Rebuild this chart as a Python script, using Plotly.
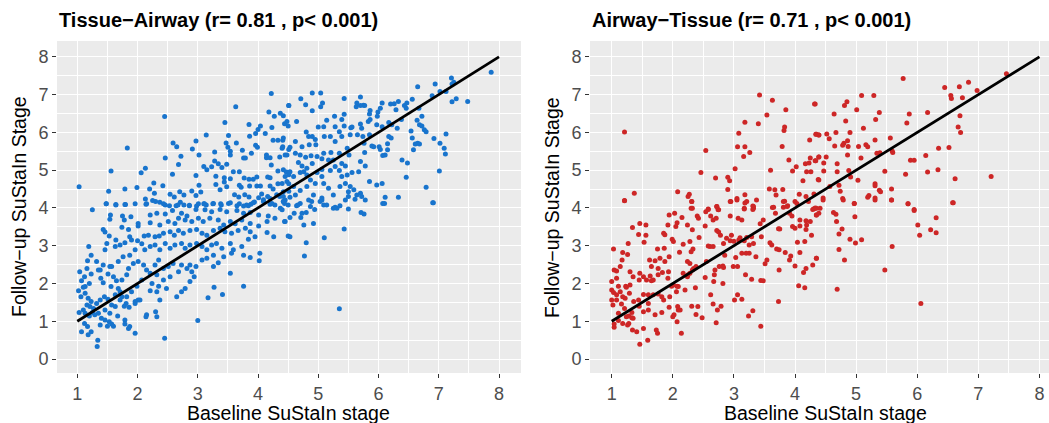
import plotly.graph_objects as go

# ---- data (baseline stage, follow-up stage) ----
tissue_airway_pts = [
(1.03,4.56),(2.45,6.42),(1.83,5.59),(1.56,4.98),(1.52,4.44),(1.48,4.11),(1.64,4.09),(1.79,4.09),(1.79,4.50),(1.99,4.54),
(2.06,4.93),(2.13,5.05),(2.46,5.32),(2.59,5.72),(2.65,5.62),(2.72,5.37),(2.68,5.15),(2.58,4.89),(2.42,4.59),(2.27,4.66),
(2.20,4.50),(2.28,4.39),(2.13,4.24),(2.14,4.10),(2.25,4.20),(2.37,4.15),(2.46,4.08),(2.54,4.36),(2.61,4.29),(2.70,4.43),
(2.77,4.34),(2.64,4.06),(2.71,4.15),(2.90,4.45),(2.97,4.86),(3.02,4.60),(2.97,4.33),(3.05,4.42),(2.91,5.56),(2.97,5.77),
(3.02,5.40),(3.14,5.93),(3.10,5.10),(3.15,5.01),(3.23,5.09),(3.28,5.24),(3.28,5.48),(3.34,5.17),(3.40,5.07),(3.45,6.26),
(3.51,5.92),(3.47,5.72),(3.50,5.61),(3.54,5.50),(3.54,5.40),(3.63,6.68),(3.64,5.72),(3.48,5.16),(3.44,4.80),(3.44,4.69),
(3.30,4.84),(3.30,4.62),(3.37,4.48),(3.48,4.56),(3.54,4.77),(3.59,4.96),(3.69,4.96),(3.74,5.53),(3.76,5.32),(3.79,5.32),
(3.85,6.21),(3.86,5.90),(3.89,5.45),(3.96,5.66),(3.99,5.61),(3.96,5.97),(4.00,6.08),(4.04,6.17),(4.12,5.97),(4.18,6.54),
(4.22,7.03),(4.27,6.43),(4.23,6.13),(4.33,5.79),(4.25,5.79),(4.41,5.79),(4.51,6.71),(4.44,6.23),(4.50,6.17),(4.40,5.58),
(4.51,5.55),(4.45,5.40),(4.36,5.35),(4.14,5.40),(4.14,5.33),(4.20,5.33),(4.22,5.14),(4.33,4.98),(4.47,4.95),(4.51,4.88),
(3.98,4.82),(3.92,4.76),(3.86,4.58),(3.98,4.58),(4.04,4.58),(4.16,4.82),(4.20,4.80),(4.06,4.37),(4.20,4.58),(4.25,4.50),
(4.33,4.64),(4.48,4.70),(4.51,4.64),(4.51,4.44),(3.77,4.79),(3.85,4.76),(3.72,4.55),(3.69,4.60),(3.61,4.35),(3.68,4.29),
(3.78,4.35),(3.85,4.29),(3.88,4.10),(3.94,4.16),(4.01,4.27),(4.09,4.22),(4.16,4.30),(4.20,4.25),(4.31,4.35),(4.36,4.30),
(4.42,4.30),(3.51,4.12),(3.39,4.08),(3.26,4.12),(3.14,4.08),(3.10,4.11),(2.98,4.05),(2.86,4.07),(2.77,4.08),(3.65,4.06),
(3.76,4.05),(3.84,4.06),(4.20,4.10),(4.28,4.08),(4.44,4.12),(4.50,4.08),
(1.48,4.11),(1.64,4.08),(1.80,4.09),(1.96,4.11),(2.15,4.11),(2.30,4.17),(2.43,4.11),(2.53,4.06),(2.67,4.08),(2.86,4.06),
(3.01,4.11),(3.11,4.11),(3.25,4.11),(3.38,4.11),(3.54,4.14),(3.69,4.11),(3.81,4.08),(3.92,4.14),(4.09,4.17),(4.23,4.12),
(4.42,4.17),(1.25,3.95),(1.55,3.81),(1.75,3.79),(1.89,3.77),(2.21,3.81),(2.32,3.86),(2.46,3.84),(2.58,3.93),(2.73,3.86),
(2.82,3.79),(2.97,3.96),(3.12,3.95),(3.23,3.90),(3.37,3.96),(3.48,3.90),(3.65,3.93),(3.76,3.86),(3.87,3.88),(4.01,3.81),
(4.17,3.79),(4.28,3.73),(4.45,3.64),(4.37,3.99),(1.54,3.70),(1.78,3.68),(2.01,3.59),(2.21,3.61),(2.37,3.55),(2.51,3.64),
(2.62,3.59),(2.68,3.73),(2.79,3.68),(2.90,3.64),(3.01,3.73),(3.09,3.64),(3.20,3.73),(3.34,3.68),(3.43,3.55),(3.54,3.64),
(3.62,3.58),(3.73,3.68),(3.87,3.59),(4.01,3.52),(4.15,3.64),(1.43,3.43),(1.46,3.36),(1.53,3.26),(1.74,3.49),(1.85,3.43),
(2.01,3.52),(1.87,3.24),(1.64,3.15),(1.63,2.98),(1.49,3.06),(1.46,2.89),(1.71,3.02),(1.79,3.08),(1.90,3.15),(2.00,3.13),
(2.11,3.26),(2.18,3.28),(2.29,3.24),(2.36,3.26),(2.43,3.33),(2.54,3.37),(2.61,3.28),(2.68,3.40),(2.76,3.33),(2.87,3.40),
(2.98,3.43),(3.07,3.33),(3.15,3.28),(3.26,3.40),(3.37,3.46),(3.45,3.37),(3.56,3.33),(3.67,3.40),(3.79,3.46),(3.87,3.37),
(3.95,3.24),(4.15,3.35),(4.26,3.24),(4.50,3.26),(1.19,2.98),(1.23,2.75),(1.17,2.60),(1.32,2.58),(1.43,2.49),(1.38,2.36),
(1.54,2.45),(1.68,2.58),(1.76,2.71),(1.87,2.75),(1.96,2.89),(2.07,3.05),(2.12,2.89),(2.21,2.98),(2.29,3.02),(2.37,2.89),
(2.46,3.06),(2.54,2.93),(2.62,3.02),(2.73,3.06),(2.79,2.93),(2.87,3.02),(2.98,3.06),(3.07,2.98),(3.15,2.89),(3.23,3.02),
(3.31,3.06),(3.40,2.93),(3.54,3.06),(3.59,2.89),(3.73,2.98),(3.84,3.17),(4.03,2.80),(3.76,2.75),(3.87,2.69),(4.02,2.60),
(3.56,2.80),(3.43,2.71),(3.26,2.75),(3.34,2.55),(3.15,2.67),(3.07,2.62),(2.97,2.45),(2.87,2.49),(1.04,2.31),(1.07,2.07),
(1.12,2.18),(1.16,2.40),(1.13,1.92),(1.20,2.00),(1.23,2.25),(1.35,2.36),(1.39,2.14),(1.43,2.02),(1.57,2.45),(1.51,2.25),
(1.60,2.18),(1.65,2.07),(1.56,1.92),(1.68,1.87),(1.74,2.09),(1.82,2.23),(1.85,2.40),(1.93,2.53),(2.01,2.58),(2.10,2.49),
(2.15,2.36),(2.21,2.27),(2.29,2.49),(2.35,2.62),(2.43,2.40),(2.51,2.45),(2.59,2.53),(2.68,2.31),(2.73,2.49),(2.82,2.40),
(2.90,2.31),(2.94,2.18),(2.87,2.05),(2.79,1.87),(2.65,1.65),(2.73,1.78),(2.54,2.18),(2.43,2.09),(2.32,2.23),(2.24,2.00),
(2.07,2.09),(1.99,1.93),(1.90,1.78),(1.82,1.65),(1.71,1.78),(1.63,1.70),(2.35,1.93),(2.32,1.78),(2.21,1.81),(2.48,1.87),
(2.37,1.56),(2.04,1.56),(1.96,1.52),(1.74,1.65),(1.81,1.47),(3.26,2.45),(3.54,2.27),(3.76,1.93),(3.27,1.90),(3.41,1.71),
(3.17,1.62),(1.02,1.81),(1.06,1.65),(1.10,1.90),(1.13,1.74),(1.18,1.61),(1.23,1.52),(1.16,1.43),(1.21,1.39),(1.27,1.34),
(1.32,1.47),(1.38,1.56),(1.45,1.65),(1.51,1.58),(1.57,1.43),(1.63,1.39),(1.71,1.56),(1.78,1.40),(1.86,1.37),(1.96,1.47),
(2.01,1.56),(1.54,1.21),(1.46,1.30),(1.35,1.21),(1.25,1.23),(1.10,1.30),(1.03,1.23),(1.13,1.21),(1.20,1.14),(1.29,1.17),
(1.40,1.08),(1.46,1.03),(1.53,0.99),(1.60,0.87),(1.50,0.87),(1.67,1.14),(1.79,1.03),(1.87,0.86),(1.85,0.81),(1.96,0.68),
(2.15,1.17),(2.14,1.12),(2.30,1.25),(2.32,1.12),(1.12,0.94),(1.17,0.86),(1.23,0.72),(1.18,0.64),(1.07,0.72),(1.38,0.90),
(1.34,0.50),(1.33,0.33),(2.45,0.55),(3.00,1.02),(1.57,0.93),(1.79,0.93),
(7.87,7.59),(7.21,7.44),(7.25,7.33),(7.22,7.28),(7.12,7.08),(7.02,7.08),(6.94,7.28),(6.89,6.97),(7.29,6.89),(7.22,6.81),
(7.48,6.82),(6.65,7.21),(6.56,6.88),(6.47,6.78),(6.46,6.64),(6.43,6.71),(6.33,6.82),(6.29,6.60),(6.26,6.76),(6.20,6.75),
(6.03,6.64),(5.99,6.54),(5.98,6.43),(6.06,6.78),(5.86,6.58),(5.85,6.49),(5.75,6.72),(5.70,6.94),(5.64,6.78),(5.63,6.68),
(5.70,6.71),(5.77,6.71),(5.43,6.90),(5.43,6.48),(5.39,6.34),(5.27,6.43),(5.14,6.32),(5.04,7.04),(4.90,7.04),(5.07,6.78),
(5.04,6.68),(4.90,6.57),(4.79,6.73),(4.71,6.89),(4.51,6.71),(4.42,6.44),(4.48,6.29),(4.64,6.29),(4.37,6.51),(5.28,6.15),
(5.43,6.17),(5.54,6.12),(5.70,6.22),(5.72,6.11),(5.83,6.29),(5.86,6.34),(5.97,6.20),(6.06,6.15),(6.17,6.26),(6.22,6.20),
(6.31,6.11),(6.38,6.34),(6.64,6.32),(6.67,6.64),(6.72,6.43),(6.68,6.20),(6.72,6.17),(6.76,6.07),(6.79,6.02),(6.54,6.04),
(6.56,5.85),(6.58,5.54),(6.61,5.69),(6.65,5.71),(6.68,5.69),(6.92,5.84),(7.12,5.96),(7.02,5.71),(7.09,5.58),(7.11,5.43),
(7.01,4.98),(6.79,4.55),(6.90,4.14),(6.46,4.81),(6.39,5.27),(6.48,5.19),(6.11,5.40),(6.03,5.55),(6.07,5.39),(6.21,5.85),
(6.17,5.89),(6.15,5.70),(6.15,5.54),(5.89,5.64),(5.92,5.62),(6.01,5.62),(5.77,5.47),(5.65,5.94),(5.56,6.14),(5.74,5.89),
(5.85,5.94),(5.76,5.71),(5.70,5.23),(5.78,5.11),(5.67,4.96),(5.85,4.70),(5.97,4.61),(6.06,4.65),(5.56,4.94),(5.53,4.57),
(5.39,5.18),(5.45,5.11),(5.48,5.58),(5.51,5.40),(5.35,5.45),(5.25,5.27),(5.21,5.47),(5.09,5.45),(5.10,5.89),(5.20,5.89),
(5.00,6.14),(5.09,6.15),(5.35,6.02),(5.39,5.89),(5.53,5.94),(5.28,5.76),(4.80,6.01),(4.84,5.89),(4.90,5.89),(4.95,5.81),
(4.85,5.67),(4.96,5.67),(4.73,5.62),(4.53,5.61),(4.62,5.76),(4.42,5.85),(4.41,5.62),(4.48,5.40),(4.62,5.45),(4.70,5.40),
(4.79,5.34),(4.88,5.38),(4.98,5.36),(5.06,5.30),(5.17,5.27),(4.67,5.20),(4.73,5.11),(4.81,5.05),(4.90,5.18),(4.98,4.94),
(5.06,5.02),(5.20,4.99),(5.28,5.10),(5.35,4.99),(5.39,4.83),(5.48,4.87),(4.42,5.01),(4.45,4.83),(4.53,4.96),(4.59,4.83),
(4.70,4.94),(4.76,4.96),(4.81,4.87),(4.87,4.74),(4.95,4.65),(5.06,4.83),(5.09,4.65),(5.17,4.52),(5.25,4.34),(5.36,4.57),
(5.45,4.65),(5.50,4.43),(5.59,4.48),(5.64,4.34),(5.70,4.39),(5.72,4.30),(5.78,4.21),(4.81,4.57),(4.70,4.46),(4.62,4.34),
(4.53,4.28),(4.45,4.21),(4.42,4.43),(4.40,4.65),(4.59,4.57),(4.92,4.34),(5.06,4.26),(5.09,4.08),(5.25,3.99),(5.36,4.06),
(5.50,4.30),(5.61,4.23),(6.11,4.28),(6.07,4.12),(6.33,4.28),(4.87,4.04),(4.70,4.12),(4.64,4.06),
(4.42,4.17),(4.40,3.95),(4.44,3.64),(4.53,3.75),(4.60,3.86),(4.66,4.08),(4.73,3.86),(4.71,3.75),(4.80,3.88),(4.76,3.55),
(4.53,3.24),(4.80,3.08),(4.77,2.73),(4.92,3.59),(4.94,3.96),(5.03,4.17),(5.14,4.08),(5.28,4.02),(5.31,3.99),(5.50,3.97),
(5.43,3.44),(5.10,3.21),(5.71,3.88),(5.76,3.84),(5.35,1.33),(6.10,4.12),(6.91,4.14),(4.89,4.17),(4.84,4.21),(5.45,4.21),
(5.06,4.21),
]

airway_tissue_pts = [
(3.42,6.99),(3.63,6.85),(3.85,6.60),(3.54,6.46),(4.32,6.75),(3.18,6.27),(3.40,6.23),(3.83,6.14),(3.82,6.05),(3.08,5.98),
(1.21,6.01),(4.34,5.95),(4.39,5.93),(2.54,5.52),(3.06,5.62),(3.18,5.62),(3.79,5.63),(4.24,5.80),(3.16,5.36),(3.26,5.47),
(3.90,5.27),(4.25,5.32),(4.39,5.35),(4.17,5.17),(4.23,5.19),(4.34,5.25),(3.02,5.04),(4.02,5.09),(3.96,4.98),(3.60,5.00),
(4.19,4.96),(4.26,4.96),(2.46,4.94),(2.70,4.79),(2.90,4.81),(2.93,4.72),(4.13,4.72),(4.39,4.74),(2.90,4.49),(3.58,4.50),
(3.67,4.48),(3.80,4.49),(2.08,4.43),(2.27,4.36),(2.25,4.30),(2.31,4.17),(1.37,4.39),(1.21,4.20),(3.05,4.25),(3.18,4.35),
(3.69,4.34),(4.07,4.36),(4.31,4.37),(4.18,4.30),(3.83,4.18),(4.00,4.17),(2.95,4.17),(3.18,4.13),(2.72,4.04),(3.31,4.05),
(3.88,4.06),(4.31,3.98),(2.30,3.99),(2.58,3.97),(2.74,3.96),(3.63,4.01),(3.32,3.99),(3.17,3.97),
(1.21,4.19),(2.31,4.17),(2.94,4.17),(3.05,4.21),(3.21,4.17),(3.37,4.21),(3.81,4.17),(4.03,4.12),(4.22,4.17),(1.94,3.81),
(2.03,3.86),(2.15,3.75),(2.32,3.99),(2.40,3.79),(2.42,3.73),(2.54,3.90),(2.58,3.96),(2.62,3.79),(2.66,3.68),(2.71,3.73),
(2.75,3.95),(2.72,4.04),(2.94,3.79),(3.07,3.73),(3.13,3.68),(3.17,3.99),(3.32,4.04),(3.31,3.96),(3.43,3.58),(3.48,3.68),
(3.65,4.02),(3.68,3.86),(3.81,4.02),(3.87,4.04),(3.95,3.79),(3.91,3.86),(4.08,3.68),(4.18,3.66),(4.25,3.64),(4.29,3.96),
(4.35,3.81),(4.41,3.99),(1.34,3.48),(1.46,3.59),(1.56,3.55),(1.44,3.30),(1.56,3.28),(1.53,3.09),(1.27,3.06),(1.92,3.55),
(2.07,3.61),(2.05,3.51),(2.24,3.55),(2.32,3.42),(2.43,3.22),(2.53,3.52),(2.72,3.40),(2.75,3.36),(2.78,3.28),(2.83,3.06),
(2.88,3.20),(2.94,3.13),(2.96,3.28),(3.00,3.12),(3.08,3.15),(3.10,3.21),(3.17,3.13),(3.21,3.22),(3.25,3.02),(3.29,3.24),
(3.45,3.24),(3.59,3.08),(3.62,3.02),(3.73,3.45),(3.75,3.44),(3.96,3.51),(4.00,3.46),(4.08,3.52),(4.18,3.43),(4.19,3.55),
(4.04,3.09),(4.16,3.11),(4.27,3.28),(1.85,3.33),(1.87,3.29),(1.99,3.17),(2.01,3.11),(2.17,3.04),(2.28,3.11),(1.03,2.91),
(1.18,2.82),(1.26,2.77),(1.17,2.62),(1.04,2.36),(1.08,2.33),(1.14,2.45),(1.08,2.14),(1.00,2.05),(1.11,1.93),(1.75,2.91),
(1.86,2.93),(1.79,2.67),(1.87,2.58),(1.94,2.71),(2.11,2.83),(1.62,2.62),(1.71,2.60),(1.65,2.45),(1.76,2.40),(1.83,2.29),
(1.93,2.31),(1.92,2.14),(1.76,2.23),(1.68,2.09),(1.63,2.20),(1.52,2.18),(1.45,2.09),(1.57,2.09),(1.65,2.07),(1.35,2.18),
(1.46,2.27),(1.30,2.31),(1.23,1.93),(1.24,1.90),(1.30,1.96),(2.30,2.84),(2.33,2.91),(2.24,2.58),(2.28,2.53),(2.34,2.40),
(2.32,2.36),(2.25,2.23),(2.17,2.27),(2.28,2.27),(2.07,1.93),(2.09,1.92),(2.01,1.96),(1.98,1.93),(2.06,1.78),(2.20,1.83),
(2.24,2.18),(2.38,2.45),(2.53,2.16),(2.55,2.58),(2.58,2.99),(2.61,2.98),(2.66,2.98),(2.76,2.45),(2.69,2.36),(2.82,2.46),
(2.83,2.42),(2.85,2.75),(2.99,2.45),(3.06,2.45),(3.03,2.69),(3.13,2.80),(3.20,2.80),(3.25,2.80),(3.32,3.06),(3.36,2.71),
(3.51,2.52),(3.54,2.62),(3.70,2.91),(3.74,2.89),(3.84,2.82),(3.91,2.62),(3.93,2.73),(4.00,2.46),(4.08,2.82),(4.18,2.40),
(4.14,2.29),(4.29,2.49),(4.35,2.67),(2.82,2.00),(2.68,2.23),(2.67,2.05),(2.62,1.70),(2.37,1.89),(3.19,2.23),(3.29,2.11),
(3.44,2.08),(3.48,2.07),(3.74,2.36),(4.06,1.94),(4.16,1.89),(3.06,1.70),(3.13,1.58),(3.01,1.56),(3.73,1.52),(1.00,1.83),
(1.03,1.76),(1.08,1.70),(1.14,1.78),(1.18,1.65),(1.00,1.56),(1.02,1.43),(1.08,1.56),(1.16,1.46),(1.22,1.61),(1.21,1.34),
(1.11,1.21),(1.29,1.74),(1.36,1.52),(1.44,1.56),(1.52,1.71),(1.60,1.70),(1.60,1.47),(1.68,1.70),(1.76,1.72),(1.82,1.65),
(1.85,1.56),(1.95,1.65),(1.60,1.30),(1.52,1.25),(1.45,1.40),(1.33,1.23),(1.24,1.12),(1.28,1.14),(1.33,1.09),(1.35,1.08),
(1.11,1.02),(1.18,0.94),(1.26,0.90),(1.28,0.94),(1.04,0.84),(1.04,0.93),(1.41,0.72),(1.34,0.77),(1.52,0.81),(1.46,0.39),
(1.59,0.50),(1.73,0.77),(1.75,0.68),(1.71,1.17),(1.82,1.23),(1.94,1.37),(2.00,1.12),(2.02,1.17),(2.08,1.39),(2.07,0.99),
(2.09,1.30),(2.12,1.30),(2.14,0.68),(2.31,1.40),(2.38,1.18),(2.41,1.39),(2.48,1.09),(2.66,1.46),(2.73,1.30),(2.79,1.40),
(2.71,0.96),(3.24,1.14),(3.31,1.28),(3.44,0.87),
(7.46,7.55),(6.84,7.33),(6.69,7.21),(6.45,7.19),(6.98,7.11),(6.55,6.98),(6.56,6.90),(6.74,6.92),(5.77,7.43),(6.17,6.53),
(6.70,6.44),(6.67,6.14),(6.71,6.00),(6.52,5.60),(6.35,5.58),(6.14,5.39),(5.87,6.49),(5.83,6.25),(5.09,6.98),(5.29,6.98),
(4.85,6.81),(4.81,6.71),(5.01,6.60),(5.38,6.53),(5.32,6.34),(4.64,6.49),(4.83,6.30),(4.33,6.75),(5.12,6.11),(4.67,6.00),
(4.90,6.00),(4.52,5.96),(4.35,5.95),(4.39,5.93),(4.56,5.83),(5.31,5.80),(5.56,5.85),(5.04,5.63),(5.16,5.67),(5.19,5.62),
(4.86,5.78),(4.80,5.71),(4.78,5.66),(4.65,5.64),(4.87,5.63),(5.34,5.45),(5.39,5.46),(5.59,5.51),(5.60,5.47),(4.86,5.40),
(5.08,5.32),(4.39,5.35),(4.51,5.35),(4.33,5.25),(4.47,5.19),(4.69,5.17),(5.89,5.26),(5.95,5.26),(5.47,4.97),(5.81,4.89),
(6.17,4.95),(6.34,5.01),(6.62,4.77),(7.21,4.83),(4.47,4.98),(4.69,4.96),(4.88,4.99),(4.91,4.82),(5.03,4.73),(4.38,4.75),
(4.57,4.57),(4.72,4.60),(4.74,4.44),(5.31,4.64),(5.31,4.59),(5.38,4.47),(5.40,4.43),(5.58,4.50),(4.46,4.26),(4.78,4.25),
(5.21,4.33),(5.19,4.28),(5.31,4.26),(5.58,4.21),(4.97,4.12),(5.85,4.11),(6.58,4.14),(4.33,4.00),(5.95,3.96),
(4.35,3.99),(4.35,3.81),(4.39,3.86),(4.63,3.88),(4.67,3.83),(4.68,3.64),(4.77,3.44),(4.72,3.31),(4.90,3.17),(4.99,3.07),
(5.09,3.16),(4.97,4.12),(4.98,3.77),(4.72,2.90),(4.81,2.62),(4.35,2.67),(5.59,2.98),(5.47,2.36),(4.69,1.85),(6.06,1.47),
(5.85,4.11),(5.95,3.93),(6.01,3.55),(6.04,3.28),(6.22,3.42),(6.31,3.74),(6.31,3.34),(6.59,4.14),(5.58,4.21),(5.31,4.21),
(4.79,4.21),(4.46,4.21),
]

identity_x = [1, 8]
identity_y = [1, 8]

panel_titles = ["Tissue\u2212Airway (r= 0.81 , p< 0.001)", "Airway\u2212Tissue (r= 0.71 , p< 0.001)"]
x_title = "Baseline SuStaIn stage"
y_title = "Follow\u2212up SuStaIn Stage"
x_ticks = [1, 2, 3, 4, 5, 6, 7, 8]
y_ticks = [0, 1, 2, 3, 4, 5, 6, 7, 8]

BLUE = "#1874CD"
RED = "#CD2626"
FONT = "Liberation Sans, Arial, Helvetica, sans-serif"

W, H = 1049, 423

lx, ly = zip(*tissue_airway_pts)
rx, ry = zip(*airway_tissue_pts)

fig = go.Figure()
fig.add_trace(go.Scatter(x=list(lx), y=list(ly), mode="markers",
                         marker=dict(size=5, color=BLUE), xaxis="x", yaxis="y",
                         hoverinfo="skip", showlegend=False))
fig.add_trace(go.Scatter(x=identity_x, y=identity_y, mode="lines",
                         line=dict(color="black", width=2.8), xaxis="x", yaxis="y",
                         showlegend=False))
fig.add_trace(go.Scatter(x=list(rx), y=list(ry), mode="markers",
                         marker=dict(size=5, color=RED), xaxis="x2", yaxis="y2",
                         hoverinfo="skip", showlegend=False))
fig.add_trace(go.Scatter(x=identity_x, y=identity_y, mode="lines",
                         line=dict(color="black", width=2.8), xaxis="x2", yaxis="y2",
                         showlegend=False))

def px_x(p):
    return p / W

def px_y(p):
    return 1 - p / H

top, bottom = 41, 373

axis_common = dict(
    showgrid=True, gridcolor="white", gridwidth=1.4,
    zeroline=False, showline=False,
    ticks="outside", ticklen=4, tickwidth=1.1, tickcolor="#333333",
    tickfont=dict(family=FONT, size=18, color="#4D4D4D"),
    minor=dict(dtick=0.5, showgrid=True, gridcolor="white", gridwidth=0.7, ticks=""),
    fixedrange=True,
)

fig.update_layout(
    width=W, height=H,
    margin=dict(l=0, r=0, t=0, b=0),
    paper_bgcolor="white", plot_bgcolor="#EBEBEB",
    font=dict(family=FONT),
    xaxis=dict(domain=[px_x(57), px_x(521)], range=[0.663, 8.365], tickvals=x_ticks,
               anchor="y", **axis_common),
    yaxis=dict(domain=[px_y(bottom), px_y(top)], range=[-0.37, 8.42], tickvals=y_ticks,
               anchor="x", **axis_common),
    xaxis2=dict(domain=[px_x(590), 1.0], range=[0.645, 8.157], tickvals=x_ticks,
                anchor="y2", **axis_common),
    yaxis2=dict(domain=[px_y(bottom), px_y(top)], range=[-0.37, 8.42], tickvals=y_ticks,
                anchor="x2", **axis_common),
)

annotations = []
for title, left in zip(panel_titles, [57, 590]):
    annotations.append(dict(text="<b>%s</b>" % title, x=px_x(left), y=px_y(20),
                            xref="paper", yref="paper", xanchor="left", yanchor="middle",
                            showarrow=False, font=dict(family=FONT, size=20, color="black")))
for cx in [288.5, 825]:
    annotations.append(dict(text=x_title, x=px_x(cx), y=px_y(412.5), xref="paper", yref="paper",
                            xanchor="center", yanchor="middle", showarrow=False,
                            font=dict(family=FONT, size=19.5, color="black")))
for cx in [19, 552]:
    annotations.append(dict(text=y_title, x=px_x(cx), y=px_y(207), xref="paper", yref="paper",
                            xanchor="center", yanchor="middle", textangle=-90, showarrow=False,
                            font=dict(family=FONT, size=19.5, color="black")))
fig.update_layout(annotations=annotations)

fig.write_html("out.html")
